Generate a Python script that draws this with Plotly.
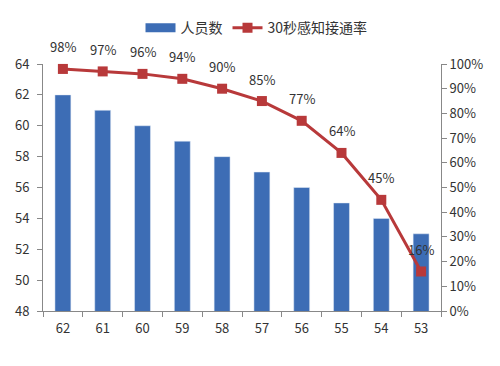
import plotly.graph_objects as go

categories = ["62", "61", "60", "59", "58", "57", "56", "55", "54", "53"]
staff = [62, 61, 60, 59, 58, 57, 56, 55, 54, 53]
rate = [98, 97, 96, 94, 90, 85, 77, 64, 45, 16]
rate_labels = [f"{v}%" for v in rate]
left_ticks = [48, 50, 52, 54, 56, 58, 60, 62, 64]
right_ticks = list(range(0, 101, 10))

FONT = "Noto Sans CJK SC, Noto Sans, sans-serif"
TXT = "#333333"
BLUE = "#3D6DB5"
RED = "#B8393A"

fig = go.Figure()
fig.add_trace(go.Bar(
    x=categories, y=staff, name="人员数", showlegend=False,
    marker=dict(color=BLUE), width=0.4, yaxis="y",
))
# legend-only entry to mimic the wide rectangular bar swatch
fig.add_trace(go.Scatter(
    x=[None], y=[None], name="人员数", mode="lines",
    line=dict(color=BLUE, width=9), yaxis="y",
))
fig.add_trace(go.Scatter(
    x=categories, y=rate, name="30秒感知接通率",
    mode="lines+markers", yaxis="y2", cliponaxis=False,
    line=dict(color=RED, width=3),
    marker=dict(symbol="square", size=10, color=RED),
))
for i, (v, t) in enumerate(zip(rate, rate_labels)):
    fig.add_annotation(x=i, y=v, xref="x", yref="y2", text=t, showarrow=False,
                       yshift=22, font=dict(size=13, color=TXT, family=FONT))

fig.update_layout(
    width=500, height=366,
    margin=dict(l=43, r=59, t=61, b=55),
    paper_bgcolor="white", plot_bgcolor="white",
    font=dict(family=FONT, size=12, color=TXT),
    showlegend=True,
    legend=dict(orientation="h", x=0.245, y=1.145, xanchor="left", yanchor="middle",
                font=dict(size=14, color=TXT), bgcolor="rgba(0,0,0,0)",
                itemwidth=30),
    bargap=0.6,
    xaxis=dict(type="category", categoryorder="array", categoryarray=categories,
               range=[-0.5, len(categories) - 0.5], automargin=False,
               showline=True, linecolor="#888888", linewidth=1,
               ticks="outside", tickson="boundaries", ticklen=5, tickcolor="#888888",
               ticklabelstandoff=5,
               showgrid=False, tickfont=dict(size=13, color=TXT)),
    yaxis=dict(range=[48, 64], tickvals=left_ticks, showline=True, linecolor="#888888",
               ticks="outside", ticklen=5, tickcolor="#888888", showgrid=False,
               ticklabelstandoff=5,
               zeroline=False, automargin=False, tickfont=dict(size=13, color=TXT)),
    yaxis2=dict(range=[0, 100], tickvals=right_ticks,
                ticktext=[f"{v}%" for v in right_ticks], overlaying="y", side="right",
                showline=True, linecolor="#888888", ticks="outside", ticklen=5,
                tickcolor="#888888", showgrid=False, zeroline=False, automargin=False,
                tickfont=dict(size=13, color=TXT)),
)

fig.write_html("out.html", config={"displayModeBar": False},
               post_script="document.body.style.margin='0';document.body.style.overflow='hidden';")
